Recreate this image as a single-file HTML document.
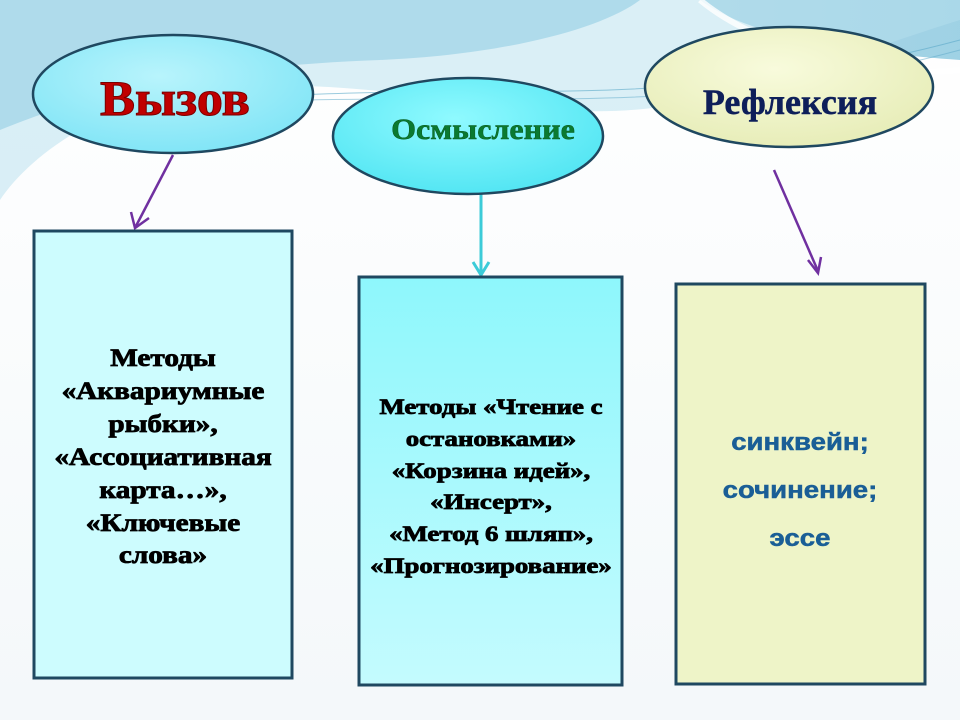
<!DOCTYPE html>
<html><head><meta charset="utf-8"><style>
html,body{margin:0;padding:0;width:960px;height:720px;overflow:hidden;background:#fff}
svg{display:block}
</style></head><body>
<svg width="960" height="720" viewBox="0 0 960 720" xmlns="http://www.w3.org/2000/svg">
<defs>
<linearGradient id="bg" x1="0" y1="0" x2="0" y2="1"><stop offset="0" stop-color="#ffffff"/><stop offset="1" stop-color="#f4f8fa"/></linearGradient>
<linearGradient id="wave" x1="0" y1="0" x2="1" y2="0"><stop offset="0" stop-color="#9ed3e6"/><stop offset="0.6" stop-color="#7dbfd9"/><stop offset="1" stop-color="#5fb3d3"/></linearGradient>
<radialGradient id="e1" cx="0.45" cy="0.35" r="0.7"><stop offset="0" stop-color="#b8f4fc"/><stop offset="1" stop-color="#7ee4f6"/></radialGradient>
<radialGradient id="e2" cx="0.45" cy="0.35" r="0.7"><stop offset="0" stop-color="#8ffaff"/><stop offset="1" stop-color="#4fe4f2"/></radialGradient>
<radialGradient id="e3" cx="0.45" cy="0.35" r="0.7"><stop offset="0" stop-color="#f8fbdc"/><stop offset="1" stop-color="#e6ecb6"/></radialGradient>
<linearGradient id="b2" x1="0" y1="0" x2="0" y2="1"><stop offset="0" stop-color="#8ef7fc"/><stop offset="1" stop-color="#c4fbfe"/></linearGradient>
</defs>
<rect width="960" height="720" fill="url(#bg)"/>
<path d="M0 0 H700 C740 30 820 50 960 60 V0 Z" fill="url(#wave)" opacity="0.6"/>
<path d="M0 0 H960 V20 C800 70 700 120 560 110 C420 100 250 60 120 110 C60 135 20 170 0 200 Z" fill="#b5dfee" opacity="0.5"/>
<path d="M0 0 H640 C600 30 500 55 380 60 C250 65 120 80 0 130 Z" fill="#8ccbe2" opacity="0.55"/>
<path d="M700 0 C760 50 880 80 960 70" stroke="#ffffff" stroke-width="6" fill="none" opacity="0.8"/>
<path d="M300 95 C500 85 700 110 960 40" stroke="#5aa8c8" stroke-width="1" fill="none" opacity="0.6"/>
<path d="M310 100 C520 95 720 115 960 50" stroke="#5aa8c8" stroke-width="1" fill="none" opacity="0.5"/>

<line x1="173" y1="155" x2="136" y2="226" stroke="#7030a0" stroke-width="2.5"/>
<polyline points="131,212 135,228 149,218" fill="none" stroke="#7030a0" stroke-width="2.5"/>
<line x1="481" y1="193" x2="481" y2="273" stroke="#3ccbd8" stroke-width="3"/>
<polyline points="473,262 481,275 489,262" fill="none" stroke="#3ccbd8" stroke-width="3"/>
<line x1="774" y1="170" x2="818" y2="271" stroke="#7030a0" stroke-width="2.5"/>
<polyline points="808,260 818,273 821,257" fill="none" stroke="#7030a0" stroke-width="2.5"/>

<ellipse cx="173" cy="94" rx="140" ry="59" fill="url(#e1)" stroke="#1f4860" stroke-width="2.5"/>
<ellipse cx="468" cy="136" rx="135" ry="58" fill="url(#e2)" stroke="#1f4860" stroke-width="2.5"/>
<ellipse cx="789" cy="87" rx="144" ry="60" fill="url(#e3)" stroke="#1f4860" stroke-width="2.5"/>

<text x="175" y="115" text-anchor="middle" font-family="Liberation Serif, serif" font-weight="bold" font-size="50" fill="#c00000" stroke="#7a0000" stroke-width="1" transform="translate(175 0) scale(1.05 1) translate(-175 0)">Вызов</text>
<text x="483" y="139" text-anchor="middle" font-family="Liberation Serif, serif" font-weight="bold" font-size="30" fill="#0a7a30" stroke="#0a5a20" stroke-width="0.5" transform="translate(483 0) scale(1.07 1) translate(-483 0)">Осмысление</text>
<text x="790" y="114" text-anchor="middle" font-family="Liberation Serif, serif" font-weight="bold" font-size="36" fill="#0e1f5a" stroke="#0e1f5a" stroke-width="0.5">Рефлексия</text>

<rect x="34" y="231" width="258" height="447" fill="#cdfcfe" stroke="#1f4860" stroke-width="3"/>
<rect x="359" y="277" width="263" height="408" fill="url(#b2)" stroke="#1f4860" stroke-width="3"/>
<rect x="676" y="284" width="249" height="400" fill="#eef4c8" stroke="#1f4860" stroke-width="3"/>

<g font-family="Liberation Serif, serif" font-weight="bold" font-size="25" fill="#000" stroke="#000" stroke-width="0.8" text-anchor="middle" transform="translate(163 0) scale(1.17 1) translate(-163 0)">
<text x="163" y="366">Методы</text>
<text x="163" y="399">«Аквариумные</text>
<text x="163" y="432">рыбки»,</text>
<text x="163" y="465">«Ассоциативная</text>
<text x="163" y="498">карта…»,</text>
<text x="163" y="531">«Ключевые</text>
<text x="163" y="563">слова»</text>
</g>
<g font-family="Liberation Serif, serif" font-weight="bold" font-size="22" fill="#000" stroke="#000" stroke-width="0.8" text-anchor="middle" transform="translate(491 0) scale(1.22 1) translate(-491 0)">
<text x="491" y="414">Методы  «Чтение с</text>
<text x="491" y="446">остановками»</text>
<text x="491" y="478">«Корзина идей»,</text>
<text x="491" y="509">«Инсерт»,</text>
<text x="491" y="541">«Метод 6 шляп»,</text>
<text x="491" y="573">«Прогнозирование»</text>
</g>
<g font-family="Liberation Sans, sans-serif" font-weight="bold" font-size="24" fill="#1a5e96" stroke="#1a5e96" stroke-width="0.5" text-anchor="middle" transform="translate(800 0) scale(1.15 1) translate(-800 0)">
<text x="800" y="450">синквейн;</text>
<text x="800" y="498">сочинение;</text>
<text x="800" y="546">эссе</text>
</g>
</svg>
</body></html>
